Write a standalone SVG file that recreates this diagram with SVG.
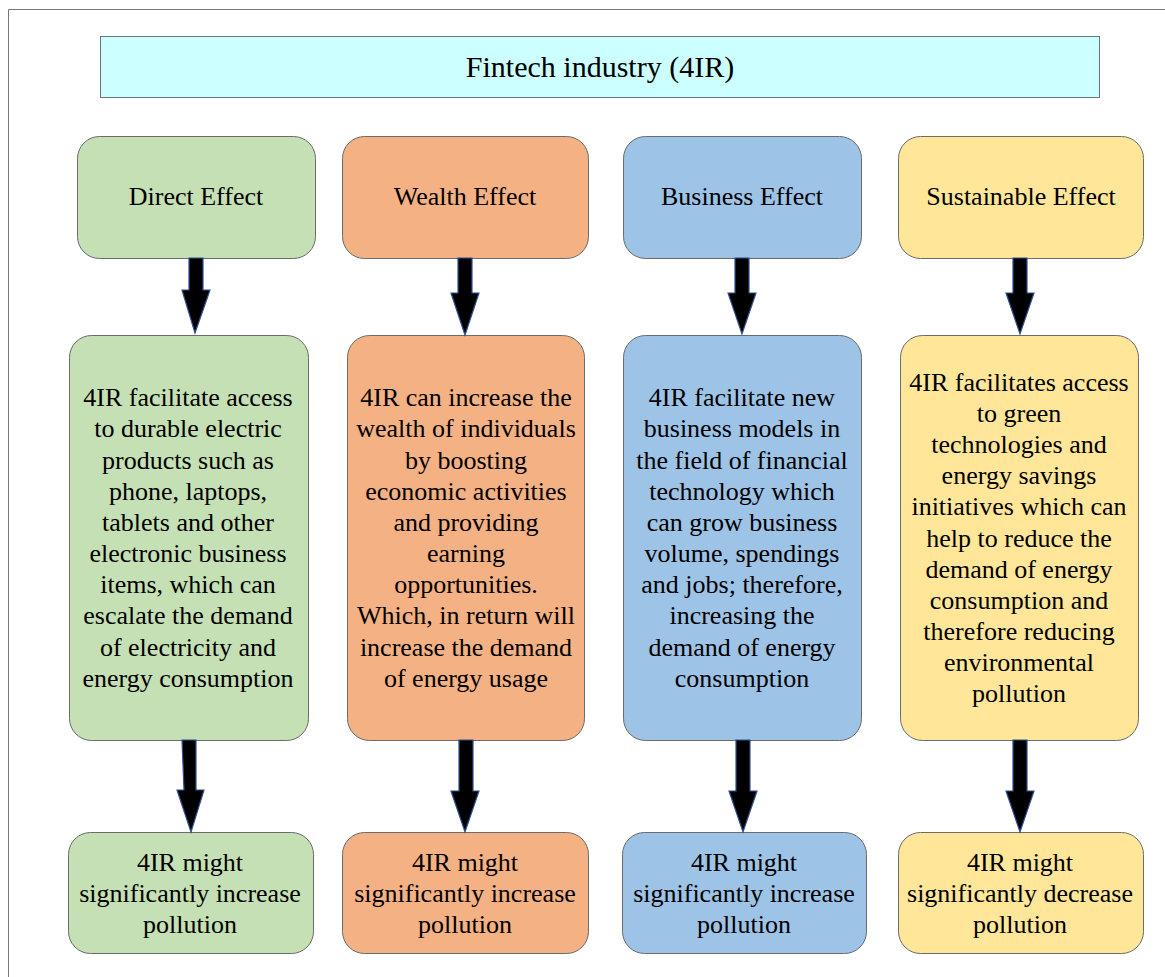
<svg xmlns="http://www.w3.org/2000/svg" width="1165" height="977" viewBox="0 0 1165 977">
<style>
.box{stroke:#6b6b6b;stroke-width:1}
.g{fill:#c5e0b4}.o{fill:#f4b183}.b{fill:#9dc3e6}.y{fill:#ffe699}
.t{font-family:"Liberation Serif","Times New Roman",serif;font-size:26px;fill:#000;text-anchor:middle}
.h{font-family:"Liberation Serif","Times New Roman",serif;font-size:26px;fill:#000;text-anchor:middle}
.ttl{font-family:"Liberation Serif","Times New Roman",serif;font-size:30px;fill:#000;text-anchor:middle}
.arr{fill:#000;stroke:#2f4f8f;stroke-width:1.2;stroke-linejoin:miter}
</style>
<rect width="1165" height="977" fill="#fff"/>
<path d="M8.5,977 V9.5 H1165" fill="none" stroke="#777" stroke-width="1"/>

<g id="title">
<rect x="100.5" y="36.5" width="999" height="61" fill="#ccffff" stroke="#667777" stroke-width="1"/>
<text x="600" y="77" class="ttl">Fintech industry (4IR)</text>
</g>

<g id="direct-effect"><rect class="box g" x="77.5" y="136.5" width="238" height="122" rx="22"/><text class="h" x="196" y="205">Direct Effect</text></g>
<g id="wealth-effect"><rect class="box o" x="342.5" y="136.5" width="246" height="122" rx="22"/><text class="h" x="465" y="205">Wealth Effect</text></g>
<g id="business-effect"><rect class="box b" x="623.5" y="136.5" width="238" height="122" rx="22"/><text class="h" x="742" y="205">Business Effect</text></g>
<g id="sustainable-effect"><rect class="box y" x="898.5" y="136.5" width="245" height="122" rx="22"/><text class="h" x="1021" y="205">Sustainable Effect</text></g>

<g id="direct-desc"><rect class="box g" x="69.5" y="335.5" width="239" height="405" rx="22"/>
<text class="t" x="188"><tspan x="188" y="406">4IR facilitate access</tspan><tspan x="188" y="437">to durable electric</tspan><tspan x="188" y="469">products such as</tspan><tspan x="188" y="500">phone, laptops,</tspan><tspan x="188" y="531">tablets and other</tspan><tspan x="188" y="562">electronic business</tspan><tspan x="188" y="593">items, which can</tspan><tspan x="188" y="624">escalate the demand</tspan><tspan x="188" y="656">of electricity and</tspan><tspan x="188" y="687">energy consumption</tspan></text></g>

<g id="wealth-desc"><rect class="box o" x="347.5" y="335.5" width="237" height="405" rx="22"/>
<text class="t" x="466"><tspan x="466" y="406">4IR can increase the</tspan><tspan x="466" y="437">wealth of individuals</tspan><tspan x="466" y="469">by boosting</tspan><tspan x="466" y="500">economic activities</tspan><tspan x="466" y="531">and providing</tspan><tspan x="466" y="562">earning</tspan><tspan x="466" y="593">opportunities.</tspan><tspan x="466" y="624">Which, in return will</tspan><tspan x="466" y="656">increase the demand</tspan><tspan x="466" y="687">of energy usage</tspan></text></g>

<g id="business-desc"><rect class="box b" x="623.5" y="335.5" width="238" height="405" rx="22"/>
<text class="t" x="742"><tspan x="742" y="406">4IR facilitate new</tspan><tspan x="742" y="437">business models in</tspan><tspan x="742" y="469">the field of financial</tspan><tspan x="742" y="500">technology which</tspan><tspan x="742" y="531">can grow business</tspan><tspan x="742" y="562">volume, spendings</tspan><tspan x="742" y="593">and jobs; therefore,</tspan><tspan x="742" y="624">increasing the</tspan><tspan x="742" y="656">demand of energy</tspan><tspan x="742" y="687">consumption</tspan></text></g>

<g id="sustainable-desc"><rect class="box y" x="900.5" y="335.5" width="238" height="405" rx="22"/>
<text class="t" x="1019"><tspan x="1019" y="391">4IR facilitates access</tspan><tspan x="1019" y="422">to green</tspan><tspan x="1019" y="453">technologies and</tspan><tspan x="1019" y="484">energy savings</tspan><tspan x="1019" y="515">initiatives which can</tspan><tspan x="1019" y="547">help to reduce the</tspan><tspan x="1019" y="578">demand of energy</tspan><tspan x="1019" y="609">consumption and</tspan><tspan x="1019" y="640">therefore reducing</tspan><tspan x="1019" y="671">environmental</tspan><tspan x="1019" y="702">pollution</tspan></text></g>

<g id="direct-result"><rect class="box g" x="68.5" y="832.5" width="245" height="121" rx="22"/>
<text class="t" x="190"><tspan x="190" y="871">4IR might</tspan><tspan x="190" y="902">significantly increase</tspan><tspan x="190" y="933">pollution</tspan></text></g>
<g id="wealth-result"><rect class="box o" x="342.5" y="832.5" width="246" height="121" rx="22"/>
<text class="t" x="465"><tspan x="465" y="871">4IR might</tspan><tspan x="465" y="902">significantly increase</tspan><tspan x="465" y="933">pollution</tspan></text></g>
<g id="business-result"><rect class="box b" x="622.5" y="832.5" width="244" height="121" rx="22"/>
<text class="t" x="744"><tspan x="744" y="871">4IR might</tspan><tspan x="744" y="902">significantly increase</tspan><tspan x="744" y="933">pollution</tspan></text></g>
<g id="sustainable-result"><rect class="box y" x="898.5" y="832.5" width="245" height="121" rx="22"/>
<text class="t" x="1020"><tspan x="1020" y="871">4IR might</tspan><tspan x="1020" y="902">significantly decrease</tspan><tspan x="1020" y="933">pollution</tspan></text></g>

<g id="connectors">
<path class="arr" d="M189,258 H203 V290 H210 L195,333 L182,290 H189 Z"/>
<path class="arr" d="M458,258 H472 V293 H479 L465,335 L451,293 H458 Z"/>
<path class="arr" d="M735,258 H749 V293 H756 L742,334 L728,293 H735 Z"/>
<path class="arr" d="M1013,258 H1027 V293 H1034 L1020,334 L1006,293 H1013 Z"/>
<path class="arr" d="M182,740 H196 V790 H204 L191,832 L177,790 H184 Z"/>
<path class="arr" d="M459,740 H473 V791 H479 L465,832 L451,791 H459 Z"/>
<path class="arr" d="M736,740 H750 V791 H757 L743,832 L729,791 H736 Z"/>
<path class="arr" d="M1013,740 H1027 V791 H1034 L1020,832 L1006,791 H1013 Z"/>
</g>
</svg>
